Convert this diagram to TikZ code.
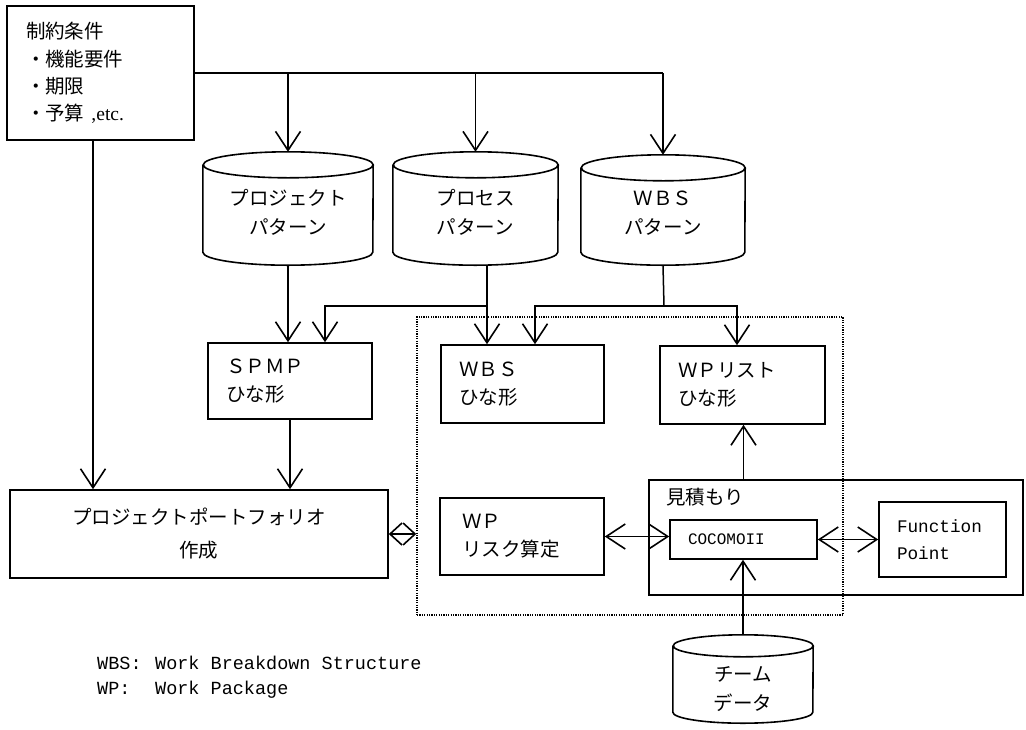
\documentclass[tikz,border=0pt]{standalone}
\usepackage{fontspec}
\setmainfont{Liberation Serif}
\newfontfamily\jp{Noto Sans CJK JP}
\newfontfamily\mono{Liberation Mono}
\usetikzlibrary{arrows.meta}
\tikzset{
  box/.style={draw, line width=1.6pt, rectangle},
  tb/.style={box, align=left, inner xsep=18pt, inner ysep=0pt, font=\jp\fontsize{19.5}{28}\selectfont},
  cylnode/.style={rectangle, inner sep=0pt},
  cyltext/.style={align=center, font=\jp\fontsize{19.5}{29}\selectfont},
  conn/.style={line width=1.5pt},
  tip/.tip={Straight Barb[length=19pt, width=25pt, line width=1.6pt]},
  smalltip/.tip={Straight Barb[length=12pt, width=22pt, line width=1.6pt]},
  arr/.style={conn, -tip},
  dbl/.style={conn, tip-tip},
  sdbl/.style={conn, smalltip-smalltip},
  grpbox/.style={draw, line width=1.5pt, dash pattern=on 1.2pt off 1.2pt, rectangle, inner sep=0pt},
}
% #1 node name, #2 x radius, #3 y radius
\newcommand\drawcylof[3]{%
  \draw[line width=1.6pt] ([yshift=-#3pt]#1.north west) -- ([yshift=#3pt]#1.south west)
    arc[start angle=180, end angle=360, x radius=#2pt, y radius=#3pt]
    -- ([yshift=-#3pt]#1.north east)
    arc[start angle=0, end angle=360, x radius=#2pt, y radius=#3pt];}
\begin{document}
\begin{tikzpicture}[x=1pt, y=-1pt]
\useasboundingbox (0,0) rectangle (1026,729);

% constraint box
\node[tb, minimum width=187pt, minimum height=134pt, text width=149pt, inner xsep=19pt,
      font=\jp\fontsize{19.5}{27.3}\selectfont] (cons) at (100.5,73)
  {制約条件\\・機能要件\\・期限\\・予算\hspace{7pt}{\rmfamily ,etc.}};

% pattern cylinders
\node[cylnode, minimum width=170pt, minimum height=113pt,
      label={[cyltext, yshift=-3.5pt]center:プロジェクト\\パターン}] (pp) at (288,208.5) {};
\node[cylnode, minimum width=165pt, minimum height=113pt,
      label={[cyltext, yshift=-3.5pt]center:プロセス\\パターン}] (prp) at (475.5,208.5) {};
\node[cylnode, minimum width=164pt, minimum height=110pt,
      label={[cyltext, yshift=-3.5pt]center:ＷＢＳ\\パターン}] (wbsp) at (663,210) {};
\drawcylof{pp}{85}{13}
\drawcylof{prp}{82.5}{13}
\drawcylof{wbsp}{82}{13}

% boxes
\node[tb, minimum width=164pt, minimum height=76pt, text width=128pt] (spmp) at (290,381) {ＳＰＭＰ\\ひな形};
\node[grpbox, minimum width=426pt, minimum height=298pt] (grp) at (630,466) {};
\node[tb, minimum width=163pt, minimum height=78pt, text width=127pt] (wbsb) at (522.5,384) {ＷＢＳ\\ひな形};
\node[tb, minimum width=165pt, minimum height=78pt, text width=129pt] (wpl) at (742.5,385) {ＷＰリスト\\ひな形};
\node[box, minimum width=378pt, minimum height=88pt, align=center,
      font=\jp\fontsize{19.5}{33}\selectfont] (port) at (199,534) {プロジェクトポートフォリオ\\作成};
\node[tb, minimum width=164pt, minimum height=77pt, text width=120pt, inner xsep=22pt] (risk) at (522,536.5) {ＷＰ\\リスク算定};
\node[box, minimum width=374pt, minimum height=115pt,
      label={[anchor=north west, inner sep=0pt, xshift=18pt, yshift=-9pt, font=\jp\fontsize{19.5}{24}\selectfont]north west:見積もり}] (est) at (836,537.5) {};
\node[box, minimum width=147pt, minimum height=39pt, text width=111pt, inner xsep=18pt, align=left,
      font=\mono\fontsize{16}{18}\selectfont] (coco) at (743.5,539.5) {COCOMOII};
\node[box, minimum width=127pt, minimum height=75pt, text width=91pt, inner xsep=18pt, align=left,
      font=\mono\fontsize{17.7}{27}\selectfont] (fp) at (942.5,539.5) {Function\\Point};

% team data cylinder
\node[cylnode, minimum width=140pt, minimum height=88pt,
      label={[cyltext, yshift=-10pt]center:チーム\\データ}] (team) at (743,679) {};
\drawcylof{team}{70}{11}

% legend
\node[anchor=west, inner sep=0pt, font=\mono\fontsize{18.5}{27}\selectfont] (leg1) at (97,663)
  {\makebox[58pt][l]{WBS:}Work Breakdown Structure};
\node[anchor=west, inner sep=0pt, font=\mono\fontsize{18.5}{27}\selectfont] (leg2) at (97,690)
  {\makebox[58pt][l]{WP:}Work Package};

% connectors from constraints
\draw[conn] (cons.east) -- (cons.east -| wbsp.north);
\draw[arr] (cons.east -| pp.north) -- (pp.north);
\draw[arr] (cons.east -| prp.north) -- (prp.north);
\draw[arr] (cons.east -| wbsp.north) -- (wbsp.north);
\draw[arr] ([xshift=-7.5pt]cons.south) -- ([xshift=-7.5pt]cons.south |- port.north);

% pattern outputs
\coordinate (j1) at (487,306);
\coordinate (j2) at (664,306);
\draw[arr] (pp.south) -- (pp.south |- spmp.north);
\draw[conn] ([xshift=11.5pt]prp.south) -- (j1);
\draw[arr] (j1) -- (j1 |- wbsb.north);
\draw[arr] (j1) -| ([xshift=35pt]spmp.north);
\draw[conn] (wbsp.south) -- (j2);
\draw[arr] (j2) -| ([xshift=12.5pt]wbsb.north);
\draw[arr] (j2) -| ([xshift=-5.5pt]wpl.north);

% lower connectors
\draw[arr] (spmp.south) -- (spmp.south |- port.north);
\draw[sdbl] (port.east) -- (port.east -| grp.west);
\draw[dbl] (risk.east) -- (risk.east -| coco.west);
\draw[dbl] (coco.east) -- (coco.east -| fp.west);
\draw[arr] (team.north) -- (team.north |- coco.south);
\draw[arr] (est.north -| coco.north) -- (wpl.south -| coco.north);
\end{tikzpicture}
\end{document}
